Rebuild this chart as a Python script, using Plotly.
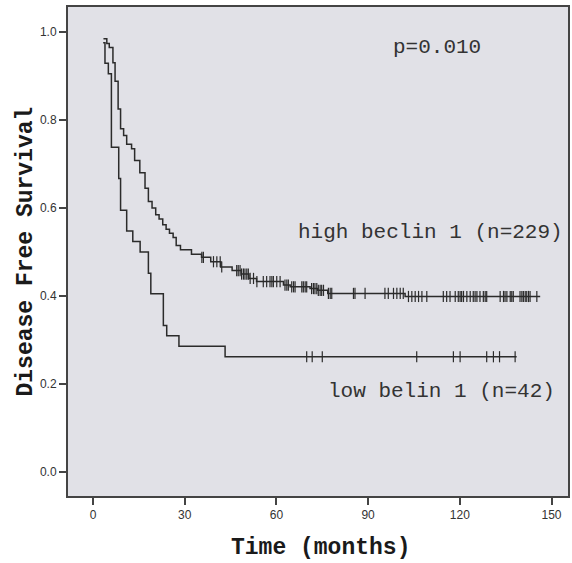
import plotly.graph_objects as go

# Kaplan-Meier step points (time in months, survival)
HIGH_T = [3.4, 4.5, 5.3, 6.5, 7.2, 8.2, 9.0, 10.0, 11.0, 12.6, 13.6, 15.3, 17.0, 18.1,
          19.3, 20.5, 21.6, 22.8, 23.9, 25.0, 26.2, 27.2, 28.6, 32.2, 35.5, 38.5, 41.8,
          45.5, 48.5, 51.0, 53.5, 62.3, 64.5, 71.0, 73.5, 76.8, 102.1, 146.3]
HIGH_S = [0.985, 0.974, 0.965, 0.930, 0.888, 0.825, 0.780, 0.765, 0.745, 0.735, 0.708,
          0.680, 0.645, 0.615, 0.600, 0.585, 0.575, 0.562, 0.552, 0.543, 0.533, 0.515,
          0.505, 0.495, 0.488, 0.478, 0.466, 0.458, 0.450, 0.440, 0.433, 0.425, 0.421,
          0.417, 0.413, 0.406, 0.399, 0.399]
HIGH_CENSOR = [35.6, 36.1, 39.4, 40.5, 41.6, 42.1, 47.0, 47.5, 48.1, 48.6, 49.2, 49.7,
               50.3, 50.8, 51.4, 52.5, 53.6, 55.7, 56.8, 57.9, 58.5, 59.0, 60.1, 61.2,
               62.8, 63.4, 63.9, 65.0, 65.6, 66.1, 68.3, 68.8, 69.4, 69.9, 71.5, 72.1,
               72.6, 73.2, 73.7, 74.3, 74.8, 75.4, 77.0, 77.6, 78.1, 85.2, 85.7, 89.0,
               95.5, 96.6, 98.3, 99.4, 100.5, 101.5, 103.2, 104.3, 105.4, 106.5, 107.6,
               109.2, 114.6, 115.7, 116.8, 118.5, 119.5, 120.1, 120.6, 121.2, 122.3,
               123.4, 124.4, 125.0, 125.6, 126.6, 127.7, 128.3, 128.8, 133.2, 134.3,
               134.8, 135.4, 136.5, 137.0, 137.5, 139.7, 140.3, 140.8, 141.4, 141.9,
               142.5, 143.0, 145.2]

LOW_T = [3.3, 3.9, 5.0, 6.0, 8.4, 9.0, 11.0, 13.0, 15.4, 18.1, 18.9, 23.0, 24.1, 28.1,
         43.2, 138.6]
LOW_S = [0.976, 0.929, 0.905, 0.738, 0.667, 0.595, 0.548, 0.524, 0.500, 0.452, 0.405,
         0.333, 0.310, 0.286, 0.262, 0.262]
LOW_CENSOR = [69.9, 71.7, 75.0, 105.9, 117.9, 120.1, 128.8, 131.0, 133.0, 138.1]

X_TICKS = [0, 30, 60, 90, 120, 150]
Y_TICKS = [0.0, 0.2, 0.4, 0.6, 0.8, 1.0]

LINE_COLOR = "#2b2b2b"
MONO = "Liberation Mono, Courier New, monospace"


def surv_at(times, surv, t):
    s = surv[0]
    for ti, si in zip(times, surv):
        if ti <= t:
            s = si
    return s


fig = go.Figure()
for times, surv, cens in [(HIGH_T, HIGH_S, HIGH_CENSOR), (LOW_T, LOW_S, LOW_CENSOR)]:
    fig.add_trace(go.Scatter(
        x=times, y=surv, mode="lines", line_shape="hv",
        line=dict(color=LINE_COLOR, width=1.5), showlegend=False,
    ))
    fig.add_trace(go.Scatter(
        x=cens, y=[surv_at(times, surv, t) for t in cens], mode="markers",
        marker=dict(symbol="line-ns", size=8, line=dict(color=LINE_COLOR, width=1.2)),
        showlegend=False,
    ))

txt = dict(family=MONO, size=21, color="#333333")
fig.add_annotation(x=112.6, y=0.966, text="p=0.010", showarrow=False, font=txt)
fig.add_annotation(x=110.3, y=0.545, text="high beclin 1 (n=229)", showarrow=False, font=txt)
fig.add_annotation(x=113.9, y=0.184, text="low belin 1 (n=42)", showarrow=False, font=txt)

title_font = dict(family=MONO, size=23, color="#1a1a1a")
fig.add_annotation(xref="paper", yref="paper", x=-0.086, y=0.5, textangle=-90,
                   xanchor="center", yanchor="middle",
                   text="<b>Disease Free Survival</b>", showarrow=False, font=title_font)
fig.add_annotation(xref="paper", yref="paper", x=0.504, y=-0.106,
                   xanchor="center", yanchor="middle",
                   text="<b>Time (months)</b>", showarrow=False, font=title_font)

axis_common = dict(
    showgrid=False, zeroline=False, showline=True, mirror=True,
    linecolor="#444444", linewidth=2, ticks="outside", ticklen=7,
    tickwidth=2, tickcolor="#444444", automargin=False,
    tickfont=dict(family="Liberation Sans, Arial, sans-serif", size=12, color="#333333"),
)
fig.update_xaxes(range=[-8.2, 155.4], tickvals=X_TICKS, **axis_common)
fig.update_yaxes(range=[-0.0545, 1.057], tickvals=Y_TICKS, tickformat=".1f", **axis_common)

fig.update_layout(
    width=572, height=563,
    margin=dict(l=68, r=4, t=7, b=67, autoexpand=False),
    plot_bgcolor="#e1e1e7", paper_bgcolor="white",
)
# drop the default 8px page margin so the figure fills the window exactly
fig.write_html("out.html", config={"displayModeBar": False},
               post_script="document.body.style.margin='0';")
